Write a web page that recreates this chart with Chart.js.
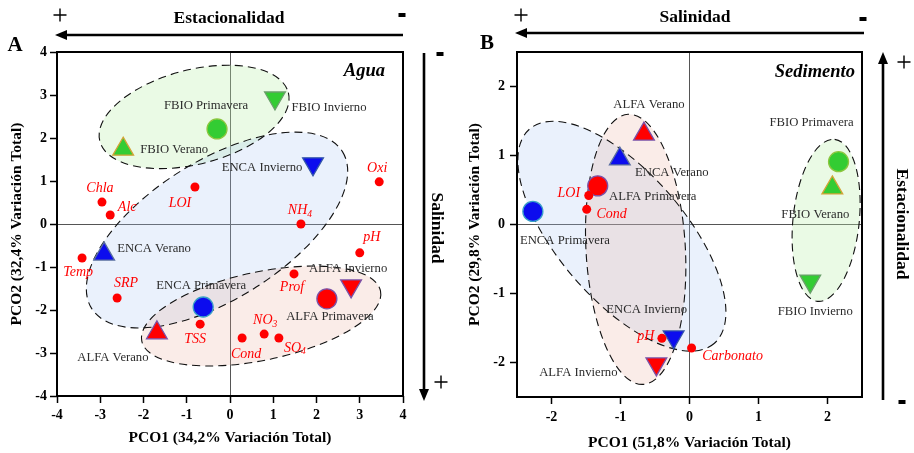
<!DOCTYPE html>
<html>
<head>
<meta charset="utf-8">
<script src="https://cdn.jsdelivr.net/npm/chart.js@4.4.1/dist/chart.umd.min.js"></script>
<style>
    body { margin: 0; background: #fff; }
    #wrap { position: relative; width: 914px; height: 453px; }
    .panel { position: absolute; top: 0; width: 457px; height: 453px; }
</style>
</head>
<body>
<div id="wrap">
    <div class="panel" style="left:0"><canvas id="aguaChart" width="457" height="453"></canvas></div>
    <div class="panel" style="left:457px"><canvas id="sedChart" width="457" height="453"></canvas></div>
</div>
<script>
// Estaciones (orden de los puntos de cada sitio)
const seasons = ['Primavera', 'Verano', 'Invierno'];

// --- Agua ---
const aguaTicks = [-4, -3, -2, -1, 0, 1, 2, 3, 4];
const aguaVars = ['Chla', 'Alc', 'LOI', 'Oxi', 'NH_4', 'pH', 'Prof', 'NO_3', 'SO_4', 'Cond', 'TSS', 'SRP', 'Temp'];
const aguaVarX = [-2.96, -2.77, -0.81, 3.45, 1.64, 3.0, 1.48, 0.79, 1.13, 0.28, -0.69, -2.61, -3.42];
const aguaVarY = [0.51, 0.21, 0.86, 0.98, 0.0, -0.67, -1.16, -2.56, -2.65, -2.65, -2.33, -1.72, -0.79];
const aguaFbioX = [-0.30, -2.47, 1.04];
const aguaFbioY = [2.21, 1.74, 2.93];
const aguaEncaX = [-0.62, -2.91, 1.92];
const aguaEncaY = [-1.93, -0.70, 1.40];
const aguaAlfaX = [2.24, -1.69, 2.80];
const aguaAlfaY = [-1.74, -2.53, -1.44];

// --- Sedimento ---
const sedTicks = [-2, -1, 0, 1, 2];
const sedVars = ['LOI', 'Cond', 'pH', 'Carbonato'];
const sedVarX = [-1.46, -1.49, -0.40, 0.03];
const sedVarY = [0.42, 0.22, -1.65, -1.79];
const sedFbioX = [2.16, 2.07, 1.75];
const sedFbioY = [0.91, 0.53, -0.82];
const sedEncaX = [-2.27, -1.01, -0.23];
const sedEncaY = [0.19, 0.95, -1.63];
const sedAlfaX = [-1.33, -0.66, -0.48];
const sedAlfaY = [0.56, 1.31, -2.02];

const SERIF = '"Liberation Serif", "Times New Roman", serif';

// desplazamiento de las etiquetas (px) respecto a cada punto
const aguaVarOffsets = [[-2, -14], [17, -8], [-15, 16], [-2, -14], [-1, -14], [12, -15], [-2, 13], [1, -14], [16, 10], [4, 16], [-5, 15], [9, -15], [-4, 14]];
const aguaFbioOffsets = [[-11, -23], [51, 0], [54, 10]];
const aguaEncaOffsets = [[-2, -21], [50, -5], [-51, 4]];
const aguaAlfaOffsets = [[3, 18], [-44, 25], [-3, -17]];
const sedVarOffsets = [[-20, -2], [25, 5], [-16, -2], [41, 8]];
const sedFbioOffsets = [[-27, -39], [-17, 27], [5, 31]];
const sedEncaOffsets = [[32, 29], [52, 14], [-27, -27]];
const sedAlfaOffsets = [[55, 11], [5, -29], [-78, 9]];

// envolventes de cada sitio (elipses en unidades de los ejes)
const aguaHulls = [
    { cx: -0.83, cy: 2.49, a: 2.25, b: 1.09, angle: 14.4, fill: 'rgba(190,240,175,0.32)' },
    { cx: -0.30, cy: -0.14, a: 3.42, b: 1.60, angle: 32, fill: 'rgba(170,200,245,0.25)' },
    { cx: 0.72, cy: -2.14, a: 2.82, b: 1.02, angle: 11.9, fill: 'rgba(230,170,150,0.22)' }
];
const sedHulls = [
    { cx: 1.98, cy: 0.06, a: 1.18, b: 0.48, angle: 84, fill: 'rgba(190,240,175,0.32)' },
    { cx: -0.98, cy: -0.17, a: 2.05, b: 0.92, angle: -49.3, fill: 'rgba(170,200,245,0.25)' },
    { cx: -0.78, cy: -0.36, a: 1.96, b: 0.72, angle: -86.8, fill: 'rgba(230,170,150,0.22)' }
];

function toPoints(xs, ys) {
    return xs.map((x, i) => ({ x: x, y: ys[i] }));
}

function varDataset(names, xs, ys, offsets) {
    return {
        data: toPoints(xs, ys),
        names: names,
        offsets: offsets,
        kind: 'var',
        pointStyle: 'circle',
        pointRadius: 4.5,
        pointBackgroundColor: '#ff0000',
        pointBorderColor: '#ff0000',
        pointBorderWidth: 0
    };
}

function siteDataset(site, xs, ys, offsets, fill, edges) {
    return {
        data: toPoints(xs, ys),
        names: seasons.map(s => site + ' ' + s),
        offsets: offsets,
        kind: 'site',
        pointStyle: ['circle', 'triangle', 'triangle'],
        pointRotation: [0, 0, 180],
        pointRadius: [10, 12, 12],
        pointBackgroundColor: fill,
        pointBorderColor: edges,
        pointBorderWidth: 1.3
    };
}

// elipses punteadas
const hullPlugin = {
    id: 'hulls',
    beforeDatasetsDraw(chart) {
        const { ctx, chartArea, scales: { x, y } } = chart;
        const hulls = chart.config._config.hulls;
        const k = Math.abs(x.getPixelForValue(1) - x.getPixelForValue(0));
        ctx.save();
        ctx.beginPath();
        ctx.rect(chartArea.left, chartArea.top, chartArea.right - chartArea.left, chartArea.bottom - chartArea.top);
        ctx.clip();
        const path = h => {
            ctx.beginPath();
            ctx.ellipse(x.getPixelForValue(h.cx), y.getPixelForValue(h.cy), h.a * k, h.b * k, -h.angle * Math.PI / 180, 0, Math.PI * 2);
        };
        hulls.forEach(h => {
            path(h);
            ctx.fillStyle = h.fill;
            ctx.fill();
        });
        ctx.setLineDash([8, 5]);
        ctx.lineWidth = 1.1;
        ctx.strokeStyle = '#111';
        hulls.forEach(h => {
            path(h);
            ctx.stroke();
        });
        ctx.restore();
    }
};

function drawLabel(ctx, text, x, y, italic) {
    const parts = text.split('_');
    const mainFont = italic ? 'italic 14px ' + SERIF : '12.7px ' + SERIF;
    const subFont = italic ? 'italic 9.5px ' + SERIF : '9.5px ' + SERIF;
    ctx.font = mainFont;
    const w1 = ctx.measureText(parts[0]).width;
    let w2 = 0;
    if (parts[1]) {
        ctx.font = subFont;
        w2 = ctx.measureText(parts[1]).width;
    }
    const left = x - (w1 + w2) / 2;
    ctx.textAlign = 'left';
    ctx.textBaseline = 'middle';
    ctx.font = mainFont;
    ctx.fillText(parts[0], left, y);
    if (parts[1]) {
        ctx.font = subFont;
        ctx.fillText(parts[1], left + w1, y + 4);
    }
}

// etiquetas de puntos
const labelPlugin = {
    id: 'pointLabels',
    afterDatasetsDraw(chart) {
        const ctx = chart.ctx;
        ctx.save();
        chart.data.datasets.forEach((ds, di) => {
            const meta = chart.getDatasetMeta(di);
            ctx.fillStyle = ds.kind === 'var' ? '#ff0000' : '#2b2b2b';
            meta.data.forEach((pt, i) => {
                const off = ds.offsets[i];
                drawLabel(ctx, ds.names[i], pt.x + off[0], pt.y + off[1], ds.kind === 'var');
            });
        });
        ctx.restore();
    },
    afterDraw(chart) {
        // marco del área del gráfico
        const { ctx, chartArea: a } = chart;
        ctx.save();
        ctx.strokeStyle = '#000';
        ctx.lineWidth = 2;
        ctx.strokeRect(a.left, a.top, a.right - a.left, a.bottom - a.top);
        ctx.restore();
    }
};

function arrow(ctx, x1, y1, x2, y2) {
    const ang = Math.atan2(y2 - y1, x2 - x1);
    const len = 12, half = 5;
    const bx = x2 - Math.cos(ang) * len, by = y2 - Math.sin(ang) * len;
    ctx.beginPath();
    ctx.moveTo(x1, y1);
    ctx.lineTo(bx, by);
    ctx.lineWidth = 2.6;
    ctx.strokeStyle = '#000';
    ctx.stroke();
    ctx.beginPath();
    ctx.moveTo(x2, y2);
    ctx.lineTo(bx - Math.sin(ang) * half, by + Math.cos(ang) * half);
    ctx.lineTo(bx + Math.sin(ang) * half, by - Math.cos(ang) * half);
    ctx.closePath();
    ctx.fillStyle = '#000';
    ctx.fill();
}

function plus(ctx, x, y) {
    ctx.beginPath();
    ctx.moveTo(x - 6.5, y);
    ctx.lineTo(x + 6.5, y);
    ctx.moveTo(x, y - 6.5);
    ctx.lineTo(x, y + 6.5);
    ctx.lineWidth = 1.4;
    ctx.strokeStyle = '#000';
    ctx.stroke();
}

function minus(ctx, x, y) {
    ctx.fillStyle = '#000';
    ctx.fillRect(x - 3.5, y - 2, 7, 4);
}

function text(ctx, str, x, y, font, rot) {
    ctx.save();
    ctx.translate(x, y);
    if (rot) ctx.rotate(rot);
    ctx.font = font;
    ctx.fillStyle = '#000';
    ctx.textAlign = 'center';
    ctx.textBaseline = 'middle';
    ctx.fillText(str, 0, 0);
    ctx.restore();
}

const aguaDecor = {
    id: 'aguaDecor',
    afterDraw(chart) {
        const ctx = chart.ctx;
        ctx.save();
        text(ctx, 'A', 15, 46, 'bold 21px ' + SERIF);
        text(ctx, 'Estacionalidad', 229, 18, 'bold 17.5px ' + SERIF);
        arrow(ctx, 403, 35, 55, 35);
        plus(ctx, 60, 15);
        minus(ctx, 402, 15);
        arrow(ctx, 424, 53, 424, 401);
        minus(ctx, 440, 54);
        plus(ctx, 441, 382);
        text(ctx, 'Salinidad', 437, 228, 'bold 17.5px ' + SERIF, Math.PI / 2);
        ctx.font = 'bold italic 18.5px ' + SERIF;
        ctx.textAlign = 'right';
        ctx.textBaseline = 'middle';
        ctx.fillText('Agua', 385, 71);
        ctx.restore();
    }
};

const sedDecor = {
    id: 'sedDecor',
    afterDraw(chart) {
        const ctx = chart.ctx;
        ctx.save();
        text(ctx, 'B', 30, 44, 'bold 21px ' + SERIF);
        text(ctx, 'Salinidad', 238, 17, 'bold 17.5px ' + SERIF);
        arrow(ctx, 407, 33, 58, 33);
        plus(ctx, 64, 15);
        minus(ctx, 406, 19);
        arrow(ctx, 426, 400, 426, 52);
        plus(ctx, 447, 62);
        minus(ctx, 445, 402);
        text(ctx, 'Estacionalidad', 445, 224, 'bold 17.5px ' + SERIF, Math.PI / 2);
        ctx.font = 'bold italic 18.5px ' + SERIF;
        ctx.textAlign = 'right';
        ctx.textBaseline = 'middle';
        ctx.fillText('Sedimento', 398, 72);
        ctx.restore();
    }
};

function axis(cfg) {
    return {
        min: cfg.min,
        max: cfg.max,
        afterBuildTicks: scale => { scale.ticks = cfg.ticks.map(v => ({ value: v })); },
        afterFit: scale => {
            if (cfg.width) scale.width = cfg.width;
            if (cfg.height) scale.height = cfg.height;
        },
        border: { display: false },
        grid: {
            color: c => (c.tick && c.tick.value === 0 ? '#555' : 'rgba(0,0,0,0)'),
            lineWidth: 1,
            tickColor: '#000',
            tickWidth: 1.5,
            tickLength: 7
        },
        ticks: {
            color: '#000',
            padding: cfg.tickPad,
            font: { family: SERIF, size: 14, weight: 'bold' }
        },
        title: {
            display: true,
            text: cfg.title,
            color: '#000',
            font: { family: SERIF, size: 15.5, weight: 'bold' },
            padding: cfg.titlePad
        }
    };
}

function makeChart(id, cfg) {
    return new Chart(document.getElementById(id), {
        type: 'scatter',
        hulls: cfg.hulls,
        data: { datasets: cfg.datasets },
        options: {
            responsive: false,
            animation: false,
            layout: { padding: cfg.padding },
            plugins: { legend: { display: false }, tooltip: { enabled: false } },
            scales: { x: cfg.x, y: cfg.y }
        },
        plugins: [hullPlugin, labelPlugin, cfg.decor]
    });
}

const greenFill = '#33cc33', blueFill = '#0c0cee', redFill = '#ff0000';
const greenEdges = ['#8dc63f', '#d4a437', '#6b9f6b'];
const blueEdges = ['#3aa0c8', '#5a6fa0', '#3355aa'];
const redEdges = ['#7b52a8', '#7b52a8', '#7b52a8'];

makeChart('aguaChart', {
    hulls: aguaHulls,
    padding: { left: 0, right: 54, top: 52, bottom: 0 },
    datasets: [
        varDataset(aguaVars, aguaVarX, aguaVarY, aguaVarOffsets),
        siteDataset('FBIO', aguaFbioX, aguaFbioY, aguaFbioOffsets, greenFill, greenEdges),
        siteDataset('ENCA', aguaEncaX, aguaEncaY, aguaEncaOffsets, blueFill, blueEdges),
        siteDataset('ALFA', aguaAlfaX, aguaAlfaY, aguaAlfaOffsets, redFill, redEdges)
    ],
    x: axis({ min: -4, max: 4, ticks: aguaTicks, height: 57, tickPad: 4, title: 'PCO1 (34,2% Variación Total)', titlePad: { top: 0, bottom: 6 } }),
    y: axis({ min: -4, max: 4, ticks: aguaTicks, width: 57, tickPad: 3, title: 'PCO2 (32,4% Variación Total)', titlePad: { top: 8, bottom: 0 } }),
    decor: aguaDecor
});

makeChart('sedChart', {
    hulls: sedHulls,
    padding: { left: 0, right: 52, top: 52, bottom: 0 },
    datasets: [
        varDataset(sedVars, sedVarX, sedVarY, sedVarOffsets),
        siteDataset('FBIO', sedFbioX, sedFbioY, sedFbioOffsets, greenFill, greenEdges),
        siteDataset('ENCA', sedEncaX, sedEncaY, sedEncaOffsets, blueFill, blueEdges),
        siteDataset('ALFA', sedAlfaX, sedAlfaY, sedAlfaOffsets, redFill, redEdges)
    ],
    x: axis({ min: -2.5, max: 2.5, ticks: sedTicks, height: 56, tickPad: 5, title: 'PCO1 (51,8% Variación Total)', titlePad: { top: 0, bottom: 1 } }),
    y: axis({ min: -2.5, max: 2.5, ticks: sedTicks, width: 60, tickPad: 5, title: 'PCO2 (29,8% Variación Total)', titlePad: { top: 9, bottom: 0 } }),
    decor: sedDecor
});
</script>
</body>
</html>
